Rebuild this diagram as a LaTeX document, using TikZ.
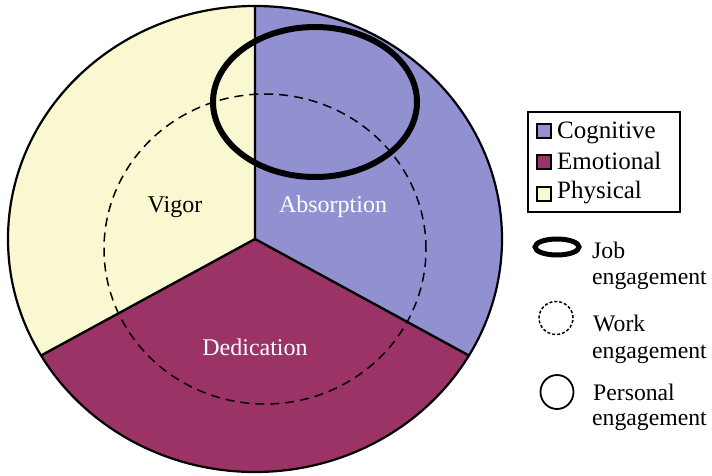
\documentclass[tikz,border=0pt]{standalone}
\usepackage{fontspec}
\setmainfont{Liberation Serif}
\definecolor{cogblue}{RGB}{145,145,210}
\definecolor{emored}{RGB}{155,51,102}
\definecolor{physyel}{RGB}{250,248,208}
\begin{document}
\begin{tikzpicture}[x=1pt,y=1pt,
  rim/.style={draw=black, line width=2.2pt},
  divider/.style={draw=black, line width=2.4pt, line join=miter},
  workline/.style={draw=black, line width=1.5pt, dash pattern=on 9pt off 6pt},
  jobline/.style={draw=black, line width=6pt},
  label/.style={inner sep=0pt, font=\fontsize{24}{24}\selectfont},
  keytext/.style={inner sep=0pt, anchor=base west, font=\fontsize{25}{25}\selectfont},
  keybox/.style={draw=black, line width=1.8pt, minimum size=14pt, inner sep=0pt},
  legtext/.style={inner sep=0pt, anchor=base west, font=\fontsize{23.7}{24}\selectfont}]
\useasboundingbox (0,0) rectangle (712,475);

% pie of three engagement dimensions
\coordinate (C) at (255,236);
\coordinate (T) at (255,469);
\coordinate (L) at (41.1,119.5);
\coordinate (R) at (468.9,119.5);
\fill[physyel] (C) -- (T) arc[start angle=90, end angle=210, x radius=247, y radius=233] -- cycle;
\fill[emored] (C) -- (L) arc[start angle=210, end angle=330, x radius=247, y radius=233] -- cycle;
\fill[cogblue] (C) -- (R) arc[start angle=330, end angle=450, x radius=247, y radius=233] -- cycle;
\draw[divider] (T) -- (C) -- (L) (C) -- (R);
\draw[rim] (C) ellipse [x radius=247, y radius=233];

% work and job engagement outlines
\draw[workline] (265,226) ellipse [x radius=161, y radius=155];
\draw[jobline] (315,373) ellipse [x radius=102, y radius=75];

% sector names
\node[label, anchor=base] (vigor) at (175,263) {Vigor};
\node[label, anchor=base, text=white] (absorption) at (333,263) {Absorption};
\node[label, anchor=base, text=white] (dedication) at (255,120) {Dedication};

% colour key
\draw[line width=1.8pt] (528,263) rectangle (680,363);
\node[keybox, fill=cogblue] (kcog) at (544,344) {};
\node[keybox, fill=emored] (kemo) at (544,313) {};
\node[keybox, fill=physyel] (kphy) at (544,281) {};
\node[keytext] (tcog) at (557,337) {Cognitive};
\node[keytext] (temo) at (557,306) {Emotional};
\node[keytext] (tphy) at (557,277) {Physical};

% outline key
\draw[line width=5pt] (557,228) ellipse [x radius=22, y radius=8];
\node[legtext] (job1) at (592,217) {Job};
\node[legtext] (job2) at (592,191) {engagement};
\draw[line width=1.5pt, dash pattern=on 3pt off 2pt] (556,157) ellipse [x radius=17, y radius=16.5];
\node[legtext] (work1) at (593,144) {Work};
\node[legtext] (work2) at (592,117) {engagement};
\draw[line width=1.8pt] (557,83) ellipse [x radius=16.5, y radius=17];
\node[legtext] (pers1) at (593,75) {Personal};
\node[legtext] (pers2) at (592,50) {engagement};
\end{tikzpicture}
\end{document}
